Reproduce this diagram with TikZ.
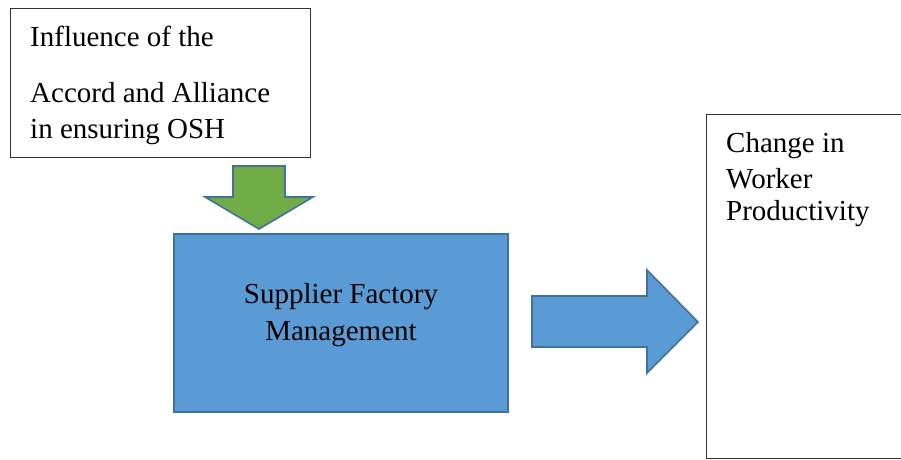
\documentclass[tikz,border=0pt]{standalone}
\usepackage{fontspec}
\setmainfont{Liberation Serif}
\definecolor{officeblue}{HTML}{5B9BD5}
\definecolor{officegreen}{HTML}{70AD47}
\definecolor{officeedge}{HTML}{41719C}
\tikzset{
  plainbox/.style={draw=black!80, line width=1pt, inner sep=0pt},
  bluebox/.style={draw=officeedge, fill=officeblue, line width=1.6pt, inner sep=0pt},
  blockarrow/.style={draw=officeedge, line width=1.6pt, line join=miter},
  boxtext/.style={font=\fontsize{29}{34}\selectfont, inner sep=0pt}
}
\begin{document}
\begin{tikzpicture}[x=1pt,y=-1pt]
			\useasboundingbox (0,0) rectangle (901,459);
			%Caja de la influencia
			\node[plainbox, minimum width=300pt, minimum height=149pt] (influence) at (160,82.5) {};
			\node[boxtext, anchor=base west] (infA) at (30,46) {Influence of the};
			\node[boxtext, anchor=base west] (infB) at (30,102) {Accord and Alliance};
			\node[boxtext, anchor=base west] (infC) at (30,138) {in ensuring OSH};
			%Flecha verde
			\draw[blockarrow, fill=officegreen] (233,166) -- (285,166) -- (285,197) -- (313,197)
				-- (259,229) -- (205,197) -- (233,197) -- cycle;
			%Caja azul
			\node[bluebox, minimum width=334pt, minimum height=178pt] (supplier) at (341,323) {};
			\node[boxtext, align=center, anchor=base] (supA) at (341,303) {Supplier Factory};
			\node[boxtext, align=center, anchor=base] (supB) at (341,340) {Management};
			%Flecha azul
			\draw[blockarrow, fill=officeblue] (532,296) -- (647,296) -- (647,270) -- (698,322)
				-- (647,373) -- (647,347) -- (532,347) -- cycle;
			%Caja de productividad
			\node[plainbox, minimum width=220pt, minimum height=344pt] (productivity) at (816,286) {};
			\node[boxtext, anchor=base west] (proA) at (726,152) {Change in};
			\node[boxtext, anchor=base west] (proB) at (726,188) {Worker};
			\node[boxtext, anchor=base west] (proC) at (726,220) {Productivity};
		\end{tikzpicture}
\end{document}
